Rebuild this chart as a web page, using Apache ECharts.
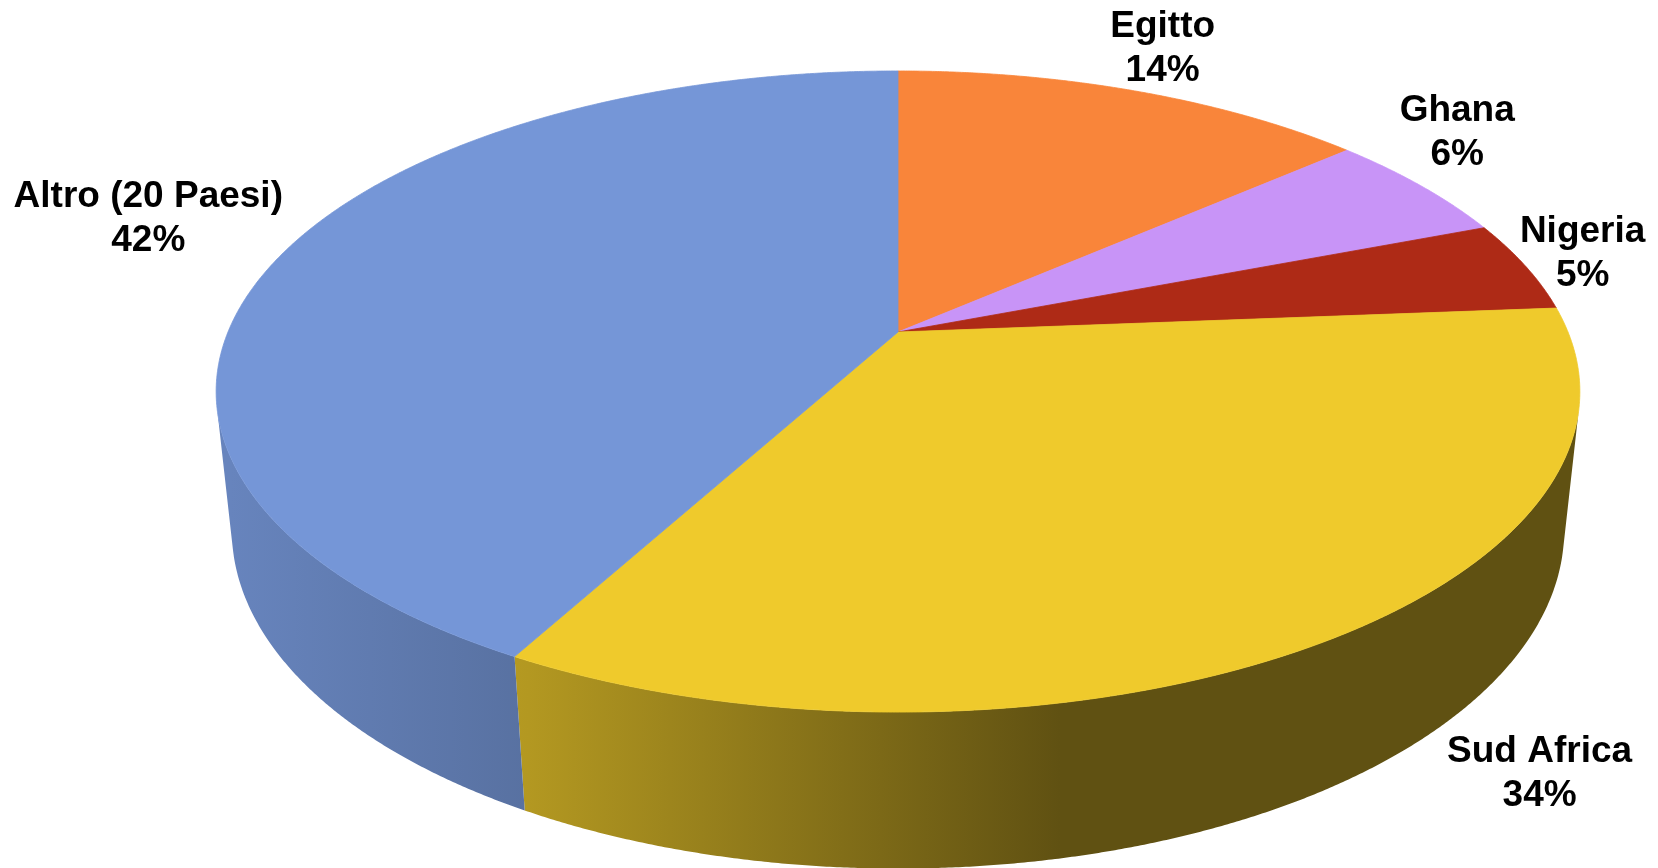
<!DOCTYPE html>
<html><head><meta charset="utf-8">
<script src="https://cdn.jsdelivr.net/npm/echarts/dist/echarts.min.js"></script>
<style>html,body{margin:0;padding:0;background:#fff}#c{width:1658px;height:868px}</style>
</head><body><div id="c"></div>
<script>
// ---- data ----
const categories = ['Egitto', 'Ghana', 'Nigeria', 'Sud Africa', 'Altro (20 Paesi)'];
const values = [13.55, 5.6, 4.6, 34.2, 42.05];
const colors = ['#f9853a', '#c894f7', '#ae2a16', '#efca2c', '#7596d7'];
// label placement relative to the projected rim point at each slice's mid angle (px)
const labelNudge = [[28, -42], [36, -53], [57, -12], [210, 134], [-129, -40]];

// ---- 3D view ----
const VIEW = { cx: 898, cy: 332, k: 670, ky: 309.5, r: 0.1857, h: 0.235 };
const S = VIEW.ky / VIEW.k, C = Math.sqrt(1 - S * S);
const Dn = C / VIEW.r, F = VIEW.k * Dn;
function project(u, v, w) {
  const d = Dn - v * C - w * S;
  return [VIEW.cx + F * u / d, VIEW.cy + F * (v * S - w * C) / d];
}
function rim(theta, w) {
  return project(Math.sin(theta), -Math.cos(theta), w);
}
function shade(hex, f) {
  const n = parseInt(hex.slice(1), 16);
  const r = Math.round(((n >> 16) & 255) * f), g = Math.round(((n >> 8) & 255) * f), b = Math.round((n & 255) * f);
  return 'rgb(' + r + ',' + g + ',' + b + ')';
}
const total = values.reduce((a, b) => a + b, 0);
const starts = [];
values.reduce((acc, v, i) => { starts[i] = acc; return acc + v; }, 0);
const visLim = Math.acos(-1 / (Dn * C)); // front-facing wall range [visLim, 2π - visLim]

function renderItem(params, api) {
  const i = params.dataIndex;
  const v = api.value(0);
  const a0 = starts[i] / total * Math.PI * 2;
  const a1 = (starts[i] + v) / total * Math.PI * 2;
  const children = [];
  const step = Math.PI / 720;
  // side wall
  const w0 = Math.max(a0, visLim), w1 = Math.min(a1, Math.PI * 2 - visLim);
  if (w1 > w0) {
    const top = [], bot = [];
    const n = Math.max(2, Math.ceil((w1 - w0) / step));
    for (let j = 0; j <= n; j++) {
      const t = w0 + (w1 - w0) * j / n;
      top.push(rim(t, 0));
      bot.push(rim(t, -VIEW.h));
    }
    const col = colors[i];
    children.push({
      type: 'polygon', z2: 1,
      shape: { points: top.concat(bot.reverse()) },
      style: {
        fill: { type: 'linear', x: 230, y: 0, x2: 1060, y2: 0, global: true,
          colorStops: [{ offset: 0, color: shade(col, 0.88) }, { offset: 0.36, color: shade(col, 0.75) }, { offset: 1, color: shade(col, 0.40) }] },
        lineWidth: 0
      }
    });
  }
  // top face
  const pts = [project(0, 0, 0)];
  const n = Math.max(2, Math.ceil((a1 - a0) / step));
  for (let j = 0; j <= n; j++) pts.push(rim(a0 + (a1 - a0) * j / n, 0));
  children.push({
    type: 'polygon', z2: 2,
    shape: { points: pts },
    style: { fill: colors[i], stroke: colors[i], lineWidth: 0.8 }
  });
  // label
  const p = rim((a0 + a1) / 2, 0);
  const pct = Math.round(v / total * 100);
  children.push({
    type: 'text', z2: 10,
    style: {
      x: p[0] + labelNudge[i][0], y: p[1] + labelNudge[i][1],
      text: categories[i] + '\n' + pct + '%',
      align: 'center', verticalAlign: 'middle',
      fontFamily: '"Liberation Sans", Arial, sans-serif', fontWeight: 'bold', fontSize: 37,
      lineHeight: 44, fill: '#000'
    }
  });
  return { type: 'group', children: children };
}

const chart = echarts.init(document.getElementById('c'), null, { renderer: 'canvas' });
chart.setOption({
  backgroundColor: '#ffffff',
  animation: false,
  series: [{
    type: 'custom',
    coordinateSystem: 'none',
    silent: true,
    data: values.map((v, i) => [v, i]),
    renderItem: renderItem
  }]
});
</script>
</body></html>
